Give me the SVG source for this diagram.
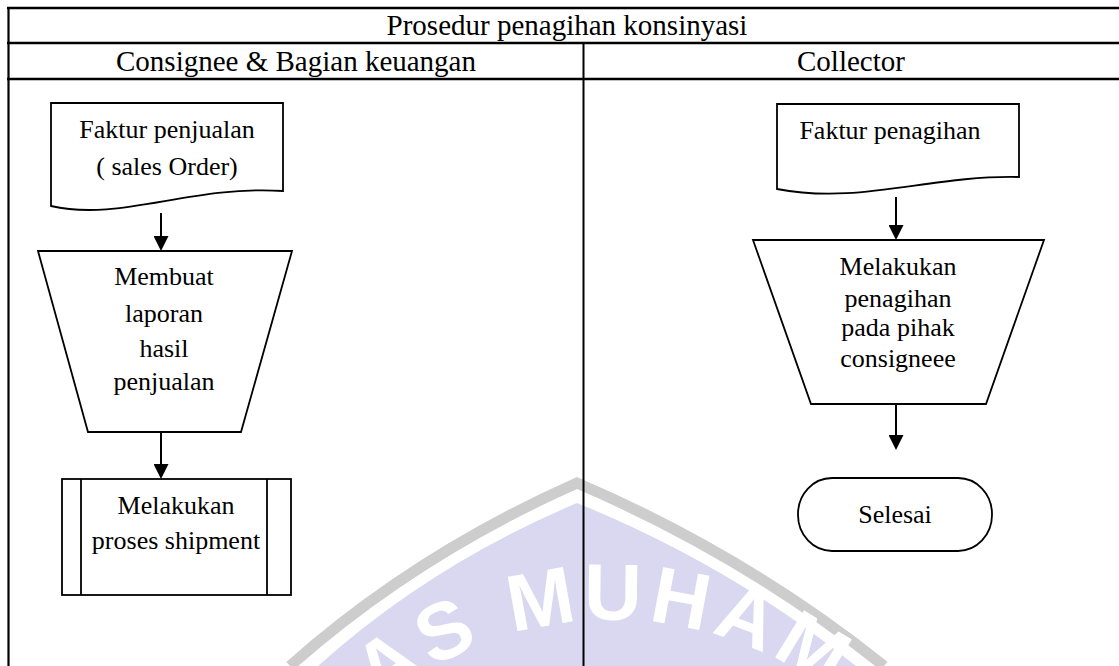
<svg xmlns="http://www.w3.org/2000/svg" width="1119" height="666" viewBox="0 0 1119 666">
  <style>
    .txt { font-family: "Liberation Serif", "Times New Roman", serif; fill: #000; }
    .hdr { font-size: 29px; text-anchor: middle; }
    .lbl { font-size: 26px; text-anchor: middle; }
    .grid { stroke: #000; fill: none; }
    .shape { fill: #fff; stroke: #000; stroke-width: 1.8; }
    .conn { stroke: #000; stroke-width: 2; fill: none; marker-end: url(#arrow); }
    .wm-text { font-family: "Liberation Sans", Arial, sans-serif; font-weight: bold; font-size: 80px; fill: #fff; letter-spacing: 6px; }
  </style>
  <defs>
    <marker id="arrow" viewBox="0 0 15 15" refX="12" refY="7.5" markerWidth="15" markerHeight="15" markerUnits="userSpaceOnUse" orient="auto">
      <path d="M0,0 L15,7.5 L0,15 Z" fill="#000"/>
    </marker>
    <path id="wm-arc" d="M297.6,801.5 A363,363 0 0 1 926.4,801.5"/>
  </defs>

  <rect width="1119" height="666" fill="#fff"/>

  <!-- background seal -->
  <g id="seal">
    <path d="M318,666 Q430,565 577,503 Q730,565 856,666 Z" fill="#dad8f0"/>
    <path d="M290,666 Q415,555 577,483 Q745,555 884,666" fill="none" stroke="#cdcdcd" stroke-width="11"/>
    <text class="wm-text"><textPath href="#wm-arc" startOffset="128">AS MUHAM</textPath></text>
  </g>

  <!-- table frame -->
  <g id="table">
    <line class="grid" x1="7" y1="8" x2="1119" y2="8" stroke-width="2.6"/>
    <line class="grid" x1="7" y1="43" x2="1119" y2="43" stroke-width="2.6"/>
    <line class="grid" x1="7" y1="79" x2="1119" y2="79" stroke-width="2.6"/>
    <line class="grid" x1="8.5" y1="7" x2="8.5" y2="666" stroke-width="2.2"/>
    <line class="grid" x1="583.5" y1="43" x2="583.5" y2="666" stroke-width="2"/>
    <text class="txt hdr" x="567" y="35">Prosedur penagihan konsinyasi</text>
    <text class="txt hdr" x="296" y="71">Consignee &amp; Bagian keuangan</text>
    <text class="txt hdr" x="851" y="71">Collector</text>
  </g>

  <!-- connectors -->
  <g id="connectors">
    <line class="conn" x1="161" y1="213" x2="161" y2="248"/>
    <line class="conn" x1="161" y1="432" x2="161" y2="476"/>
    <line class="conn" x1="896" y1="197" x2="896" y2="237"/>
    <line class="conn" x1="896" y1="404" x2="896" y2="447"/>
  </g>

  <g id="faktur-penjualan">
    <path class="shape" d="M51,103 H283 V191 C190,185 120,222 51,206 Z"/>
    <text class="txt lbl" x="167" y="138">Faktur penjualan</text>
    <text class="txt lbl" x="167" y="175">( sales Order)</text>
  </g>

  <g id="membuat-laporan">
    <path class="shape" d="M38,251 L292,251 L241,432 L88,432 Z"/>
    <text class="txt lbl" x="164" y="285">Membuat</text>
    <text class="txt lbl" x="164" y="322">laporan</text>
    <text class="txt lbl" x="164" y="357">hasil</text>
    <text class="txt lbl" x="164" y="390">penjualan</text>
  </g>

  <g id="proses-shipment">
    <rect class="shape" x="62" y="479" width="229" height="116"/>
    <line class="shape" x1="81" y1="479" x2="81" y2="595"/>
    <line class="shape" x1="267" y1="479" x2="267" y2="595"/>
    <text class="txt lbl" x="176" y="514">Melakukan</text>
    <text class="txt lbl" x="176" y="549">proses shipment</text>
  </g>

  <g id="faktur-penagihan">
    <path class="shape" d="M777,104 H1019 V177 C930,175 860,205 777,189 Z"/>
    <text class="txt lbl" x="890" y="139">Faktur penagihan</text>
  </g>

  <g id="melakukan-penagihan">
    <path class="shape" d="M753,240 L1044,240 L986,404 L811,404 Z"/>
    <text class="txt lbl" x="898" y="275">Melakukan</text>
    <text class="txt lbl" x="898" y="307">penagihan</text>
    <text class="txt lbl" x="898" y="336">pada pihak</text>
    <text class="txt lbl" x="898" y="367">consigneee</text>
  </g>

  <g id="selesai">
    <rect class="shape" x="798" y="478" width="194" height="73" rx="34" ry="36"/>
    <text class="txt lbl" x="895" y="523">Selesai</text>
  </g>
</svg>
